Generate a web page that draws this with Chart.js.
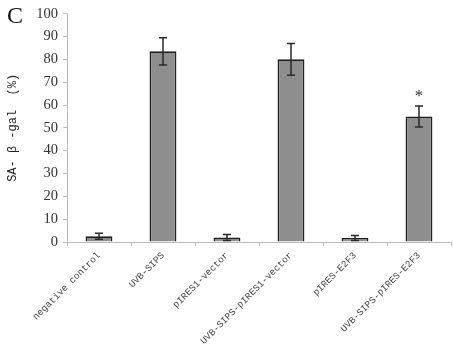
<!DOCTYPE html>
<html>
<head>
<meta charset="utf-8">
<script src="https://cdn.jsdelivr.net/npm/chart.js@4"></script>
<style>
body{margin:0;background:#fff;}
#wrap{position:relative;width:454px;height:351px;}
#panel{position:absolute;left:7px;top:2px;font:24px "Liberation Serif",serif;color:#111;}
</style>
</head>
<body>
<div id="wrap">
<canvas id="chartSAgal" width="454" height="351"></canvas>
<div id="panel">C</div>
</div>
<script>
// groups, mean % SA-beta-gal positive cells and SD
const groupLabels=['negative control','UVB-SIPS','pIRES1-vector','UVB-SIPS-pIRES1-vector','pIRES-E2F3','UVB-SIPS-pIRES-E2F3']
const meanValues=[2.5,83.5,2,80,1.8,55]
const sdValues=[1.3,6,1.3,7,1.1,4.6]
const starMarks=['','','','','','*']
const yTicks=[0,10,20,30,40,50,60,70,80,90,100]

const errorBarsPlugin={
  id:'errorBars',
  afterDatasetsDraw(chart){
    const ctx=chart.ctx
    const y=chart.scales.y
    const meta=chart.getDatasetMeta(0)
    ctx.save()
    ctx.strokeStyle='#2a2a2a'
    ctx.lineWidth=1.5
    meta.data.forEach((bar,i)=>{
      const x=bar.x
      const top=y.getPixelForValue(meanValues[i]+sdValues[i])
      const bot=y.getPixelForValue(meanValues[i]-sdValues[i])
      ctx.beginPath()
      ctx.moveTo(x,top);ctx.lineTo(x,bot)
      ctx.moveTo(x-4,top);ctx.lineTo(x+4,top)
      ctx.moveTo(x-4,bot);ctx.lineTo(x+4,bot)
      ctx.stroke()
      if(starMarks[i]){
        ctx.fillStyle='#333'
        ctx.font='17px "Liberation Serif",serif'
        ctx.textAlign='center'
        ctx.textBaseline='bottom'
        ctx.fillText(starMarks[i],x,top-1)
      }
    })
    ctx.restore()
  }
}

const chartSAgal=new Chart(
  document.getElementById('chartSAgal'),
  {
    type:'bar',
    data:{
      labels:groupLabels,
      datasets:[{
        data:meanValues,
        backgroundColor:'#8e8e8e',
        borderColor:'#1e1e1e',
        borderWidth:1.6,
        barPercentage:0.42,
        categoryPercentage:1
      }]
    },
    options:{
      responsive:false,
      animation:false,
      layout:{padding:{left:6,right:3,top:8,bottom:0}},
      plugins:{legend:{display:false},tooltip:{enabled:false}},
      scales:{
        y:{
          min:0,max:100,
          afterBuildTicks:(s)=>{s.ticks=yTicks.map(v=>({value:v}))},
          afterFit:(s)=>{s.width=61},
          border:{display:true,color:'#bbb'},
          grid:{drawOnChartArea:false,tickLength:4,color:'#bbb'},
          ticks:{color:'#333',padding:5,font:{family:'"Liberation Serif",serif',size:14.5}},
          title:{display:true,text:'SA- β -gal  (%)',color:'#222',padding:0,
            font:{family:'"Liberation Mono","DejaVu Sans Mono",monospace',size:12}}
        },
        x:{
          afterFit:(s)=>{s.height=109},
          border:{display:true,color:'#bbb'},
          grid:{drawOnChartArea:false,tickLength:4,color:'#bbb',offset:true},
          ticks:{color:'#444',maxRotation:45,minRotation:45,padding:4,autoSkip:false,
            font:{family:'"Liberation Mono","DejaVu Sans Mono",monospace',size:9.5}}
        }
      }
    },
    plugins:[errorBarsPlugin]
  }
)
</script>
</body>
</html>
